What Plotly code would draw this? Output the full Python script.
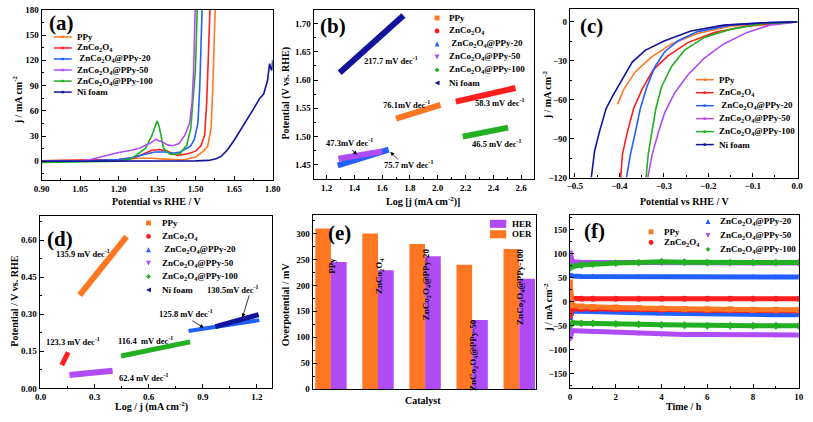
import plotly.graph_objects as go

W, H = 813, 422
FONT = "Liberation Serif"

# ---------------- colours ----------------
C_PPY = "#FF7722"
C_ZCO = "#FF1E1E"
C_20 = "#2060FF"
C_50 = "#B04CF5"
C_100 = "#22B022"
C_NI = "#12129A"

# ---------------- data: (a) OER LSV ----------------
a_ppy_v = [0.90, 1.10, 1.20, 1.28, 1.33, 1.38, 1.45, 1.50, 1.53, 1.547, 1.560, 1.567, 1.573, 1.58]
a_ppy_j = [0.5, 1, 2, 3.5, 3.5, 2.5, 1.5, 5, 12, 18, 39, 89, 178, 220]
a_zco_v = [0.90, 1.10, 1.20, 1.26, 1.30, 1.33, 1.36, 1.39, 1.43, 1.47, 1.50, 1.52, 1.535, 1.543, 1.549, 1.553, 1.56]
a_zco_j = [0.5, 1, 2, 4, 9, 13, 14, 12, 7, 9, 12, 18, 31, 70, 120, 180, 220]
a_20_v = [0.90, 1.10, 1.20, 1.25, 1.30, 1.34, 1.38, 1.41, 1.44, 1.46, 1.48, 1.495, 1.509, 1.516, 1.522, 1.53]
a_20_j = [0.3, 0.8, 2, 4, 8, 11, 11, 9.5, 11, 14, 18, 26, 46, 89, 178, 230]
a_50_v = [0.90, 1.05, 1.09, 1.14, 1.20, 1.25, 1.28, 1.32, 1.345, 1.37, 1.39, 1.41, 1.435, 1.458, 1.477, 1.486, 1.492, 1.498, 1.505]
a_50_j = [0, 0.3, 2, 6, 10.5, 13, 15.5, 21, 26, 23, 19.5, 18.5, 21, 31, 46, 70, 108, 178, 230]
a_100_v = [0.90, 1.10, 1.20, 1.25, 1.28, 1.305, 1.33, 1.342, 1.350, 1.358, 1.375, 1.40, 1.42, 1.44, 1.465, 1.481, 1.490, 1.499, 1.506, 1.51]
a_100_j = [-1.5, -1, 0, 3, 9.5, 15.5, 31, 43, 48, 41, 15.5, 8.5, 8, 9.6, 19, 39, 70, 108, 178, 220]
a_ni_v = [0.90, 1.20, 1.40, 1.50, 1.55, 1.58, 1.60, 1.625, 1.65, 1.675, 1.70, 1.725, 1.75, 1.765, 1.78, 1.788, 1.793, 1.797, 1.80]
a_ni_j = [0, 0, 0.2, 0.5, 1, 3, 6, 14, 25, 37, 50, 62, 75, 80, 96, 116, 110, 108, 120]

# ---------------- data: (b) OER Tafel ----------------
b_ppy_x = [1.70, 2.02]; b_ppy_y = [1.532, 1.556]
b_zco_x = [2.13, 2.56]; b_zco_y = [1.562, 1.586]
b_20_x = [1.28, 1.647]; b_20_y = [1.449, 1.477]
b_50_x = [1.285, 1.60]; b_50_y = [1.461, 1.474]
b_100_x = [2.18, 2.506]; b_100_y = [1.500, 1.516]
b_ni_x = [1.294, 1.753]; b_ni_y = [1.613, 1.714]
b_labels = ["217.7 mV dec<sup>-1</sup>", "76.1mV dec<sup>-1</sup>", "58.3 mV dec<sup>-1</sup>",
            "46.5 mV dec<sup>-1</sup>", "47.3mV dec<sup>-1</sup>", "75.7 mV dec<sup>-1</sup>"]

# ---------------- data: (c) HER LSV ----------------
c_ppy_v = [-0.404, -0.390, -0.364, -0.327, -0.283, -0.224, -0.151, -0.062, 0.0]
c_ppy_j = [-63.5, -52, -38.4, -27, -17, -9, -3.3, -0.8, 0]
c_zco_v = [-0.403, -0.397, -0.393, -0.382, -0.368, -0.349, -0.324, -0.290, -0.246, -0.187, -0.114, -0.040, 0.0]
c_zco_j = [-125, -120, -102, -85, -67, -52, -37, -26, -16, -8.3, -3.3, -0.8, 0]
c_20_v = [-0.384, -0.375, -0.364, -0.353, -0.338, -0.320, -0.298, -0.268, -0.224, -0.151, -0.062, 0.0]
c_20_j = [-120, -102, -85, -67, -50, -34.6, -23, -14.6, -7.5, -2.5, -0.5, 0]
c_50_v = [-0.336, -0.326, -0.312, -0.298, -0.276, -0.246, -0.209, -0.165, -0.114, -0.062, 0.0]
c_50_j = [-120, -102, -85, -70, -55, -41, -28, -17, -8.3, -2.5, 0]
c_100_v = [-0.340, -0.335, -0.327, -0.318, -0.305, -0.283, -0.254, -0.209, -0.151, -0.077, 0.0]
c_100_j = [-120, -102, -85, -67, -50, -34.6, -22, -12, -5.8, -1.5, 0]
c_ni_v = [-0.463, -0.456, -0.445, -0.430, -0.415, -0.397, -0.371, -0.342, -0.298, -0.239, -0.165, -0.077, 0.0]
c_ni_j = [-120, -100, -85, -67, -57, -46, -31, -22, -14.6, -7, -2.5, -0.8, 0]

# ---------------- data: (d) HER Tafel ----------------
d_ppy_x = [0.217, 0.477]; d_ppy_y = [0.377, 0.614]
d_zco_x = [0.118, 0.153]; d_zco_y = [0.094, 0.146]
d_20_x = [0.821, 1.214]; d_20_y = [0.232, 0.276]
d_50_x = [0.16, 0.40]; d_50_y = [0.054, 0.071]
d_100_x = [0.447, 0.830]; d_100_y = [0.131, 0.188]
d_ni_x = [0.97, 1.21]; d_ni_y = [0.250, 0.298]
d_labels = ["135.9 mV dec<sup>-1</sup>", "123.3 mV dec<sup>-1</sup>", "116.4  mV dec<sup>-1</sup>",
            "62.4 mV dec<sup>-1</sup>", "125.8 mV dec<sup>-1</sup>", "130.5mV dec<sup>-1</sup>"]

# ---------------- data: (e) overpotentials ----------------
e_cats = ["PPy", "ZnCo<sub>2</sub>O<sub>4</sub>", "ZnCo<sub>2</sub>O<sub>4</sub>@PPy-20",
          "ZnCo<sub>2</sub>O<sub>4</sub>@PPy-50", "ZnCo<sub>2</sub>O<sub>4</sub>@PPy-100"]
e_oer = [310, 300, 280, 240, 270]
e_her = [245, 229, 256, 133, 213]

# ---------------- data: (f) stability ----------------
f_t = [0, 0.1, 0.5, 1, 2, 3, 4, 5, 6, 7, 8, 9, 10]
f_ppy = [40, -8, -10, -11, -12, -13, -14, -15, -16, -16, -17, -17, -17]
f_zco_pos = [12, 7, 6, 6, 6, 6, 6, 6, 6, 6, 6, 6, 6]
f_zco_neg = [-30, -14, -15, -15, -16, -16, -17, -17, -18, -18, -18, -19, -19]
f_20_pos = [55, 53, 52, 52, 51, 51, 50, 50, 50, 50, 51, 51, 51]
f_20_neg = [-35, -20, -20, -21, -22, -23, -24, -25, -25, -26, -26, -27, -27]
f_50_pos = [103, 83, 82, 82, 81, 81, 80, 80, 80, 80, 80, 80, 80]
f_50_neg = [-78, -60, -61, -62, -63, -65, -67, -68, -68, -68, -68, -69, -69]
f_100_pos = [70, 73, 76, 78, 80, 81, 83, 82, 81, 81, 81, 81, 81]
f_100_neg = [-50, -44, -45, -45, -46, -47, -48, -49, -50, -50, -50, -50, -50]

names = ["PPy", "ZnCo<sub>2</sub>O<sub>4</sub>", "\u00a0ZnCo<sub>2</sub>O<sub>4</sub>@PPy-20",
         "ZnCo<sub>2</sub>O<sub>4</sub>@PPy-50", "ZnCo<sub>2</sub>O<sub>4</sub>@PPy-100", "Ni foam"]
colors = [C_PPY, C_ZCO, C_20, C_50, C_100, C_NI]
symbols = ["square", "circle", "triangle-up", "triangle-down", "diamond", "triangle-left"]


def X(px):
    return px / W


def Y(py):
    return 1 - py / H


fig = go.Figure()
shapes = []
annos = []


def txt(px, py, text, size=9, xanchor="left", angle=0, yanchor="middle"):
    annos.append(dict(x=X(px), y=Y(py), xref="paper", yref="paper", text="<b>" + text + "</b>",
                      showarrow=False, xanchor=xanchor, yanchor=yanchor, textangle=angle,
                      font=dict(family=FONT, size=size, color="black")))


def key_marker(sym, cx, cy, s, color):
    h = s / 2
    if sym == "square":
        shapes.append(dict(type="rect", xref="paper", yref="paper", x0=X(cx - h), x1=X(cx + h),
                           y0=Y(cy + h), y1=Y(cy - h), fillcolor=color, line_width=0))
        return
    if sym == "circle":
        shapes.append(dict(type="circle", xref="paper", yref="paper", x0=X(cx - h), x1=X(cx + h),
                           y0=Y(cy + h), y1=Y(cy - h), fillcolor=color, line_width=0))
        return
    pts = {
        "triangle-up": [(cx, cy - h), (cx + h, cy + h), (cx - h, cy + h)],
        "triangle-down": [(cx - h, cy - h), (cx + h, cy - h), (cx, cy + h)],
        "diamond": [(cx, cy - h), (cx + h, cy), (cx, cy + h), (cx - h, cy)],
        "triangle-left": [(cx - h, cy), (cx + h, cy - h), (cx + h, cy + h)],
    }[sym]
    path = "M " + " L ".join(f"{X(a)},{Y(b)}" for a, b in pts) + " Z"
    shapes.append(dict(type="path", xref="paper", yref="paper", path=path, fillcolor=color, line_width=0))


def key_line(x1, x2, cy, color):
    shapes.append(dict(type="line", xref="paper", yref="paper", x0=X(x1), x1=X(x2), y0=Y(cy), y1=Y(cy),
                       line=dict(color=color, width=1.5)))


def axis(px0, px1, rng, dtick, tick0, fmt, showlabels=True, vertical=False):
    d = dict(domain=[X(px0), X(px1)] if not vertical else [Y(px1), Y(px0)],
             range=rng, dtick=dtick, tick0=tick0, tickformat=fmt,
             showgrid=False, zeroline=False, showline=True, linecolor="black", linewidth=1.2,
             mirror=True, ticks="inside", ticklen=4, tickwidth=1, tickcolor="black",
             showticklabels=showlabels, ticklabeloverflow="allow",
             tickfont=dict(family=FONT, size=9, color="black", weight="bold"),
             minor=dict(ticks="inside", ticklen=2, dtick=dtick / 2, tickcolor="black"))
    return d


# ---------------- panel (a) ----------------
for v, j, c in [(a_ppy_v, a_ppy_j, C_PPY), (a_zco_v, a_zco_j, C_ZCO), (a_20_v, a_20_j, C_20),
                (a_100_v, a_100_j, C_100), (a_50_v, a_50_j, C_50), (a_ni_v, a_ni_j, C_NI)]:
    fig.add_trace(go.Scatter(x=v, y=j, mode="lines", line=dict(color=c, width=1.6),
                             xaxis="x", yaxis="y", showlegend=False))

# ---------------- panel (b) ----------------
for xs, ys, c, w in [(b_ni_x, b_ni_y, C_NI, 6), (b_ppy_x, b_ppy_y, C_PPY, 6), (b_zco_x, b_zco_y, C_ZCO, 6),
                     (b_100_x, b_100_y, C_100, 6), (b_20_x, b_20_y, C_20, 6), (b_50_x, b_50_y, C_50, 6)]:
    fig.add_trace(go.Scatter(x=xs, y=ys, mode="lines", line=dict(color=c, width=w),
                             xaxis="x2", yaxis="y2", showlegend=False))

# ---------------- panel (c) ----------------
for v, j, c in [(c_ppy_v, c_ppy_j, C_PPY), (c_zco_v, c_zco_j, C_ZCO), (c_20_v, c_20_j, C_20),
                (c_50_v, c_50_j, C_50), (c_100_v, c_100_j, C_100), (c_ni_v, c_ni_j, C_NI)]:
    fig.add_trace(go.Scatter(x=v, y=j, mode="lines", line=dict(color=c, width=1.6),
                             xaxis="x3", yaxis="y3", showlegend=False))

# ---------------- panel (d) ----------------
for xs, ys, c, w in [(d_ppy_x, d_ppy_y, C_PPY, 6), (d_zco_x, d_zco_y, C_ZCO, 5), (d_50_x, d_50_y, C_50, 6),
                     (d_100_x, d_100_y, C_100, 5), (d_20_x, d_20_y, C_20, 4), (d_ni_x, d_ni_y, C_NI, 5)]:
    fig.add_trace(go.Scatter(x=xs, y=ys, mode="lines", line=dict(color=c, width=w),
                             xaxis="x4", yaxis="y4", showlegend=False))

# ---------------- panel (e) ----------------
idx = list(range(len(e_cats)))
fig.add_trace(go.Bar(x=idx, y=e_oer, marker=dict(color=C_PPY, line_width=0), xaxis="x5", yaxis="y5",
                     showlegend=False, name="OER"))
fig.add_trace(go.Bar(x=idx, y=e_her, marker=dict(color=C_50, line_width=0), xaxis="x5", yaxis="y5",
                     showlegend=False, name="HER"))

# ---------------- panel (f) ----------------
for ys, c, s in [(f_50_pos, C_50, "triangle-down"), (f_50_neg, C_50, "triangle-down"),
                 (f_100_pos, C_100, "diamond"), (f_100_neg, C_100, "diamond"),
                 (f_20_pos, C_20, "triangle-up"), (f_20_neg, C_20, "triangle-up"),
                 (f_zco_neg, C_ZCO, "circle"), (f_zco_pos, C_ZCO, "circle"),
                 (f_ppy, C_PPY, "square")]:
    fig.add_trace(go.Scatter(x=f_t, y=ys, mode="lines+markers", line=dict(color=c, width=5),
                             marker=dict(color=c, size=6, symbol=s),
                             xaxis="x6", yaxis="y6", showlegend=False))

# ---------------- axes ----------------
lay = {}
lay["xaxis"] = axis(34.3, 270, [0.8999, 1.8001], 0.15, 0.9, ".2f")
lay["yaxis"] = axis(5, 179, [-22, 180.01], 30, 0, "d", vertical=True)
lay["yaxis"]["anchor"] = "x"; lay["xaxis"]["anchor"] = "y"
lay["xaxis2"] = axis(311.7, 536.7, [1.106, 2.694], 0.2, 1.2, ".1f")
lay["yaxis2"] = axis(5, 178.3, [1.425, 1.724], 0.05, 1.45, ".2f", vertical=True)
lay["xaxis2"]["anchor"] = "y2"; lay["yaxis2"]["anchor"] = "x2"
lay["xaxis3"] = axis(573.3, 805.7, [-0.511, 0.0015], 0.1, 0, ".1f")
lay["yaxis3"] = axis(4, 176.7, [-120.01, 10], 30, 0, "d", vertical=True)
lay["xaxis3"]["anchor"] = "y3"; lay["yaxis3"]["anchor"] = "x3"
lay["xaxis4"] = axis(32.3, 269.3, [-0.005, 1.284], 0.3, 0, ".1f")
lay["yaxis4"] = axis(216, 392.7, [-0.0001, 0.6976], 0.15, 0, ".2f", vertical=True)
lay["xaxis4"]["anchor"] = "y4"; lay["yaxis4"]["anchor"] = "x4"
lay["xaxis5"] = axis(310.7, 538.3, [-0.39, 4.35], 1, 0, "d", showlabels=False)
lay["xaxis5"]["ticks"] = ""; lay["xaxis5"]["minor"] = dict(ticks="")
lay["yaxis5"] = axis(215, 393.3, [0, 336], 50, 0, "d", vertical=True)
lay["xaxis5"]["anchor"] = "y5"; lay["yaxis5"]["anchor"] = "x5"
lay["xaxis6"] = axis(573.3, 806.7, [0, 10.001], 2, 0, "d")
lay["yaxis6"] = axis(215, 392.7, [-180, 180], 50, 0, "d", vertical=True)
lay["xaxis6"]["anchor"] = "y6"; lay["yaxis6"]["anchor"] = "x6"

# ---------------- panel labels ----------------
for lab, px, py in [("(a)", 55, 18.5), ("(b)", 331.7, 21.7), ("(c)", 595, 21.7),
                    ("(d)", 53.3, 240), ("(e)", 338.3, 233.3), ("(f)", 598.3, 231.7)]:
    txt(px, py, lab, size=21, xanchor="center")

# ---------------- axis titles ----------------
txt(151.7, 201.7, "Potential vs RHE / V", 10, "center")
txt(10, 96.7, "j / mA cm<sup>-2</sup>", 10, "center", angle=-90)
txt(423.3, 201.7, "Log [j (mA cm<sup>-2</sup>)]", 10, "center")
txt(283.3, 90, "Potential (V vs. RHE)", 10, "center", angle=-90)
txt(690, 201.7, "Potential vs RHE / V", 10, "center")
txt(550, 92.3, "j / mA cm<sup>-2</sup>", 10, "center", angle=-90)
txt(146.7, 411.7, "Log / j (mA cm<sup>-2</sup>)", 10, "center")
txt(6.7, 303.3, "Potential / V vs. RHE", 10, "center", angle=-90)
txt(423.3, 405, "Catalyst", 10, "center")
txt(283.3, 306.7, "Overpotential / mV", 10, "center", angle=-90)
txt(690, 411.7, "Time / h", 10, "center")
txt(550, 310, "j / mA cm<sup>-2</sup>", 10, "center", angle=-90)

# ---------------- legends ----------------
for i in range(6):
    cy = 32.7 + 11.3 * i
    key_line(46.7, 65, cy, colors[i])
    key_marker("square", 55.8, cy, 2.5, colors[i])
    txt(68.3, cy, names[i], 9)
for i in range(6):
    cy = 76.5 + 13.3 * i
    key_line(701.7, 720, cy, colors[i])
    key_marker("square", 710.8, cy, 2.5, colors[i])
    txt(723.3, cy, names[i], 9)
for i in range(6):
    cy = 13.3 + 13.3 * i
    key_marker(symbols[i], 437.7, cy, 5, colors[i])
    txt(448.3, cy, names[i], 9)
for i in range(6):
    cy = 223.3 + 13.7 * i
    key_marker(symbols[i], 143.3, cy, 5, colors[i])
    txt(155, cy, names[i], 9)
for i, cy in [(0, 232.3), (1, 243.3)]:
    key_marker(symbols[i], 656, cy, 5, colors[i])
    txt(666.7, cy, names[i].replace("\u00a0", ""), 9)
for i, cy in [(2, 221.7), (3, 236), (4, 250.3)]:
    key_marker(symbols[i], 714, cy, 5, colors[i])
    txt(724.3, cy, names[i].replace("\u00a0", ""), 9)
# (e) legend
shapes.append(dict(type="rect", xref="paper", yref="paper", x0=X(491.7), x1=X(508.3), y0=Y(228.3), y1=Y(220),
                   fillcolor=C_50, line_width=0))
shapes.append(dict(type="rect", xref="paper", yref="paper", x0=X(491.7), x1=X(508.3), y0=Y(239), y1=Y(230.7),
                   fillcolor=C_PPY, line_width=0))
txt(511.7, 224, "HER", 9)
txt(511.7, 235, "OER", 9)

# ---------------- slope annotations ----------------
def data_txt(xr, yr, x, y, text, size=8.5):
    annos.append(dict(x=x, y=y, xref=xr, yref=yr, text="<b>" + text + "</b>", showarrow=False,
                      xanchor="center", yanchor="middle", font=dict(family=FONT, size=size, color="black")))


def arrow(xr, yr, tx, ty, hx, hy):
    annos.append(dict(x=hx, y=hy, ax=tx, ay=ty, xref=xr, yref=yr, axref=xr, ayref=yr, text="",
                      showarrow=True, arrowhead=2, arrowsize=1, arrowwidth=0.8, arrowcolor="black"))


for (x, y), t in zip([(1.664, 1.635), (1.777, 1.556), (2.447, 1.561), (2.423, 1.488), (1.364, 1.489),
                      (1.788, 1.450)], b_labels):
    data_txt("x2", "y2", x, y, t)
arrow("x2", "y2", 1.372, 1.479, 1.419, 1.468)
arrow("x2", "y2", 1.724, 1.457, 1.659, 1.473)

for (x, y), t in zip([(0.236, 0.544), (0.181, 0.189), (0.58, 0.193), (0.571, 0.044), (0.806, 0.303),
                      (1.069, 0.399)], d_labels):
    data_txt("x4", "y4", x, y, t)
arrow("x4", "y4", 0.834, 0.277, 0.906, 0.245)
arrow("x4", "y4", 1.16, 0.382, 1.12, 0.287)

# (e) category labels
for i, (cat, top) in enumerate(zip(e_cats, [257.7, 257.7, 276.6, 138.3, 273.6])):
    annos.append(dict(x=i + 0.03, y=top, xref="x5", yref="y5", text="<b>" + cat + "</b>", showarrow=False,
                      textangle=-90, xanchor="center", yanchor="top",
                      font=dict(family=FONT, size=9, color="black")))

fig.update_layout(width=W, height=H, margin=dict(l=0, r=0, t=0, b=0), paper_bgcolor="white",
                  plot_bgcolor="white", showlegend=False, barmode="group", bargap=0.333, bargroupgap=0,
                  shapes=shapes, annotations=annos, **lay)
fig.write_html("out.html", config={"displayModeBar": False},
               post_script="document.body.style.margin='0px';document.body.style.padding='0px';"
                           "document.documentElement.style.overflow='hidden';")
